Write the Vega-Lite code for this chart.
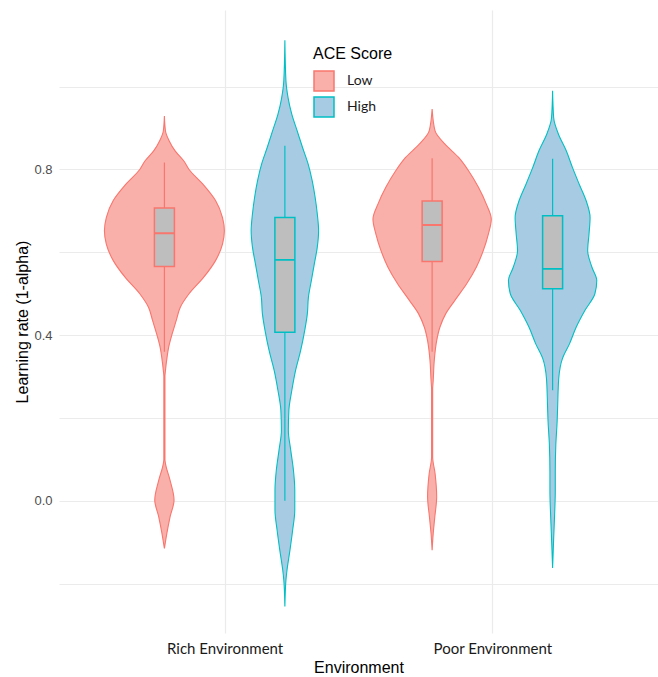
{
  "$schema": "https://vega.github.io/schema/vega-lite/v6.json",
  "autosize": {"type": "none"},
  "width": 599,
  "height": 623,
  "padding": {"left": 59, "top": 10, "right": 0, "bottom": 44},
  "background": "white",
  "config": {
    "view": {"stroke": null},
    "axis": {"gridColor": "#EBEBEB", "gridWidth": 1.2, "ticks": false, "domain": false}
  },
  "datasets": {
    "violin": [
      {"env": "Rich", "ace": "Low", "y": 0.929, "w": 0},
      {"env": "Rich", "ace": "Low", "y": 0.893, "w": 0.004},
      {"env": "Rich", "ace": "Low", "y": 0.869, "w": 0.018},
      {"env": "Rich", "ace": "Low", "y": 0.845, "w": 0.04},
      {"env": "Rich", "ace": "Low", "y": 0.821, "w": 0.072},
      {"env": "Rich", "ace": "Low", "y": 0.8, "w": 0.092},
      {"env": "Rich", "ace": "Low", "y": 0.765, "w": 0.143},
      {"env": "Rich", "ace": "Low", "y": 0.725, "w": 0.191},
      {"env": "Rich", "ace": "Low", "y": 0.684, "w": 0.217},
      {"env": "Rich", "ace": "Low", "y": 0.652, "w": 0.224},
      {"env": "Rich", "ace": "Low", "y": 0.62, "w": 0.217},
      {"env": "Rich", "ace": "Low", "y": 0.58, "w": 0.191},
      {"env": "Rich", "ace": "Low", "y": 0.54, "w": 0.147},
      {"env": "Rich", "ace": "Low", "y": 0.5, "w": 0.092},
      {"env": "Rich", "ace": "Low", "y": 0.467, "w": 0.059},
      {"env": "Rich", "ace": "Low", "y": 0.435, "w": 0.044},
      {"env": "Rich", "ace": "Low", "y": 0.403, "w": 0.029},
      {"env": "Rich", "ace": "Low", "y": 0.371, "w": 0.016},
      {"env": "Rich", "ace": "Low", "y": 0.347, "w": 0.01},
      {"env": "Rich", "ace": "Low", "y": 0.315, "w": 0.004},
      {"env": "Rich", "ace": "Low", "y": 0.3, "w": 0.002},
      {"env": "Rich", "ace": "Low", "y": 0.1, "w": 0.002},
      {"env": "Rich", "ace": "Low", "y": 0.09, "w": 0.004},
      {"env": "Rich", "ace": "Low", "y": 0.05, "w": 0.021},
      {"env": "Rich", "ace": "Low", "y": 0.002, "w": 0.036},
      {"env": "Rich", "ace": "Low", "y": -0.039, "w": 0.021},
      {"env": "Rich", "ace": "Low", "y": -0.079, "w": 0.009},
      {"env": "Rich", "ace": "Low", "y": -0.115, "w": 0},
      {"env": "Rich", "ace": "High", "y": 1.112, "w": 0},
      {"env": "Rich", "ace": "High", "y": 1.014, "w": 0.004},
      {"env": "Rich", "ace": "High", "y": 0.973, "w": 0.012},
      {"env": "Rich", "ace": "High", "y": 0.933, "w": 0.026},
      {"env": "Rich", "ace": "High", "y": 0.893, "w": 0.046},
      {"env": "Rich", "ace": "High", "y": 0.853, "w": 0.066},
      {"env": "Rich", "ace": "High", "y": 0.813, "w": 0.087},
      {"env": "Rich", "ace": "High", "y": 0.773, "w": 0.102},
      {"env": "Rich", "ace": "High", "y": 0.733, "w": 0.113},
      {"env": "Rich", "ace": "High", "y": 0.693, "w": 0.121},
      {"env": "Rich", "ace": "High", "y": 0.652, "w": 0.126},
      {"env": "Rich", "ace": "High", "y": 0.612, "w": 0.121},
      {"env": "Rich", "ace": "High", "y": 0.572, "w": 0.11},
      {"env": "Rich", "ace": "High", "y": 0.532, "w": 0.099},
      {"env": "Rich", "ace": "High", "y": 0.492, "w": 0.088},
      {"env": "Rich", "ace": "High", "y": 0.452, "w": 0.084},
      {"env": "Rich", "ace": "High", "y": 0.411, "w": 0.074},
      {"env": "Rich", "ace": "High", "y": 0.363, "w": 0.059},
      {"env": "Rich", "ace": "High", "y": 0.315, "w": 0.04},
      {"env": "Rich", "ace": "High", "y": 0.267, "w": 0.026},
      {"env": "Rich", "ace": "High", "y": 0.219, "w": 0.015},
      {"env": "Rich", "ace": "High", "y": 0.17, "w": 0.013},
      {"env": "Rich", "ace": "High", "y": 0.122, "w": 0.022},
      {"env": "Rich", "ace": "High", "y": 0.074, "w": 0.032},
      {"env": "Rich", "ace": "High", "y": 0.026, "w": 0.037},
      {"env": "Rich", "ace": "High", "y": -0.022, "w": 0.037},
      {"env": "Rich", "ace": "High", "y": -0.071, "w": 0.029},
      {"env": "Rich", "ace": "High", "y": -0.119, "w": 0.019},
      {"env": "Rich", "ace": "High", "y": -0.167, "w": 0.008},
      {"env": "Rich", "ace": "High", "y": -0.191, "w": 0.004},
      {"env": "Rich", "ace": "High", "y": -0.255, "w": 0},
      {"env": "Poor", "ace": "Low", "y": 0.946, "w": 0},
      {"env": "Poor", "ace": "Low", "y": 0.893, "w": 0.011},
      {"env": "Poor", "ace": "Low", "y": 0.861, "w": 0.048},
      {"env": "Poor", "ace": "Low", "y": 0.829, "w": 0.099},
      {"env": "Poor", "ace": "Low", "y": 0.797, "w": 0.136},
      {"env": "Poor", "ace": "Low", "y": 0.757, "w": 0.173},
      {"env": "Poor", "ace": "Low", "y": 0.717, "w": 0.202},
      {"env": "Poor", "ace": "Low", "y": 0.68, "w": 0.221},
      {"env": "Poor", "ace": "Low", "y": 0.644, "w": 0.21},
      {"env": "Poor", "ace": "Low", "y": 0.604, "w": 0.191},
      {"env": "Poor", "ace": "Low", "y": 0.564, "w": 0.165},
      {"env": "Poor", "ace": "Low", "y": 0.524, "w": 0.129},
      {"env": "Poor", "ace": "Low", "y": 0.484, "w": 0.085},
      {"env": "Poor", "ace": "Low", "y": 0.452, "w": 0.051},
      {"env": "Poor", "ace": "Low", "y": 0.419, "w": 0.029},
      {"env": "Poor", "ace": "Low", "y": 0.387, "w": 0.017},
      {"env": "Poor", "ace": "Low", "y": 0.339, "w": 0.008},
      {"env": "Poor", "ace": "Low", "y": 0.29, "w": 0.004},
      {"env": "Poor", "ace": "Low", "y": 0.27, "w": 0.002},
      {"env": "Poor", "ace": "Low", "y": 0.106, "w": 0.002},
      {"env": "Poor", "ace": "Low", "y": 0.066, "w": 0.011},
      {"env": "Poor", "ace": "Low", "y": 0.01, "w": 0.017},
      {"env": "Poor", "ace": "Low", "y": -0.039, "w": 0.01},
      {"env": "Poor", "ace": "Low", "y": -0.079, "w": 0.004},
      {"env": "Poor", "ace": "Low", "y": -0.119, "w": 0},
      {"env": "Poor", "ace": "High", "y": 0.99, "w": 0},
      {"env": "Poor", "ace": "High", "y": 0.925, "w": 0.004},
      {"env": "Poor", "ace": "High", "y": 0.885, "w": 0.022},
      {"env": "Poor", "ace": "High", "y": 0.845, "w": 0.051},
      {"env": "Poor", "ace": "High", "y": 0.805, "w": 0.074},
      {"env": "Poor", "ace": "High", "y": 0.765, "w": 0.099},
      {"env": "Poor", "ace": "High", "y": 0.725, "w": 0.125},
      {"env": "Poor", "ace": "High", "y": 0.684, "w": 0.14},
      {"env": "Poor", "ace": "High", "y": 0.644, "w": 0.136},
      {"env": "Poor", "ace": "High", "y": 0.604, "w": 0.131},
      {"env": "Poor", "ace": "High", "y": 0.564, "w": 0.147},
      {"env": "Poor", "ace": "High", "y": 0.532, "w": 0.165},
      {"env": "Poor", "ace": "High", "y": 0.5, "w": 0.158},
      {"env": "Poor", "ace": "High", "y": 0.46, "w": 0.121},
      {"env": "Poor", "ace": "High", "y": 0.419, "w": 0.088},
      {"env": "Poor", "ace": "High", "y": 0.379, "w": 0.063},
      {"env": "Poor", "ace": "High", "y": 0.344, "w": 0.037},
      {"env": "Poor", "ace": "High", "y": 0.296, "w": 0.023},
      {"env": "Poor", "ace": "High", "y": 0.231, "w": 0.019},
      {"env": "Poor", "ace": "High", "y": 0.192, "w": 0.017},
      {"env": "Poor", "ace": "High", "y": 0.135, "w": 0.012},
      {"env": "Poor", "ace": "High", "y": 0.071, "w": 0.01},
      {"env": "Poor", "ace": "High", "y": 0.023, "w": 0.01},
      {"env": "Poor", "ace": "High", "y": -0.025, "w": 0.008},
      {"env": "Poor", "ace": "High", "y": -0.09, "w": 0.004},
      {"env": "Poor", "ace": "High", "y": -0.162, "w": 0}
    ],
    "box": [
      {"env": "Rich", "ace": "Low", "lower": 0.36, "q1": 0.566, "median": 0.646, "q3": 0.707, "upper": 0.817},
      {"env": "Rich", "ace": "High", "lower": 0.0, "q1": 0.407, "median": 0.582, "q3": 0.684, "upper": 0.857},
      {"env": "Poor", "ace": "Low", "lower": 0.36, "q1": 0.578, "median": 0.666, "q3": 0.724, "upper": 0.827},
      {"env": "Poor", "ace": "High", "lower": 0.267, "q1": 0.512, "median": 0.56, "q3": 0.688, "upper": 0.826}
    ]
  },
  "layer": [
    {
      "data": {"name": "violin"},
      "transform": [
        {"calculate": "(datum.env === 'Rich' ? 1 : 2) + (datum.ace === 'Low' ? -0.225 : 0.225)", "as": "pos"},
        {"calculate": "datum.pos - datum.w", "as": "xl"},
        {"calculate": "datum.pos + datum.w", "as": "xr"}
      ],
      "mark": {"type": "area", "orient": "horizontal", "interpolate": "monotone", "strokeWidth": 1.1},
      "encoding": {
        "y": {
          "field": "y", "type": "quantitative",
          "scale": {"domain": [-0.319, 1.185], "nice": false, "zero": false},
          "axis": {
            "values": [-0.2, 0, 0.2, 0.4, 0.6, 0.8, 1.0],
            "labelExpr": "round(datum.value * 10) % 4 == 0 ? format(datum.value, '.1f') : ''",
            "labelFont": "Liberation Sans", "labelFontSize": 13, "labelColor": "#4D4D4D", "labelPadding": 7,
            "title": "Learning rate (1-alpha)", "titleFont": "Liberation Sans", "titleFontSize": 16,
            "titleFontWeight": "normal", "titleColor": "#000000", "titlePadding": 3
          }
        },
        "x": {
          "field": "xl", "type": "quantitative",
          "scale": {"domain": [0.4, 2.6], "nice": false, "zero": false},
          "axis": {
            "values": [1, 2],
            "labelExpr": "datum.value == 1 ? 'Rich Environment' : 'Poor Environment'",
            "labelFont": "Lato", "labelFontSize": 15, "labelColor": "#1A1A1A", "labelPadding": 8,
            "title": "Environment", "titleFont": "Liberation Sans", "titleFontSize": 16,
            "titleFontWeight": "normal", "titleColor": "#000000", "titlePadding": 3
          }
        },
        "x2": {"field": "xr"},
        "detail": {"field": "env"},
        "fill": {
          "field": "ace", "type": "nominal",
          "scale": {"domain": ["Low", "High"], "range": ["#FAB0AA", "#A7CBE3"]},
          "legend": {
            "title": "ACE Score", "orient": "none", "legendX": 254, "legendY": 36,
            "titleFont": "Liberation Sans", "titleFontSize": 16, "titleFontWeight": "normal", "titleColor": "#000000",
            "titlePadding": 8, "labelFont": "Lato", "labelFontSize": 14, "labelColor": "#1A1A1A",
            "symbolType": "square", "symbolSize": 400, "symbolStrokeWidth": 1.5, "labelOffset": 12,
            "rowPadding": 0, "padding": 0
          }
        },
        "stroke": {
          "field": "ace", "type": "nominal",
          "scale": {"domain": ["Low", "High"], "range": ["#F8766D", "#00BFC4"]},
          "legend": {
            "title": "ACE Score", "orient": "none", "legendX": 254, "legendY": 36,
            "titleFont": "Liberation Sans", "titleFontSize": 16, "titleFontWeight": "normal", "titleColor": "#000000",
            "titlePadding": 8, "labelFont": "Lato", "labelFontSize": 14, "labelColor": "#1A1A1A",
            "symbolType": "square", "symbolSize": 400, "symbolStrokeWidth": 1.5, "labelOffset": 12,
            "rowPadding": 0, "padding": 0
          }
        }
      }
    },
    {
      "data": {"name": "box"},
      "transform": [
        {"calculate": "(datum.env === 'Rich' ? 1 : 2) + (datum.ace === 'Low' ? -0.225 : 0.225)", "as": "pos"}
      ],
      "mark": {"type": "rule", "strokeWidth": 1.2},
      "encoding": {
        "x": {"field": "pos", "type": "quantitative", "title": "Environment"},
        "y": {"field": "lower", "type": "quantitative", "title": "Learning rate (1-alpha)"},
        "y2": {"field": "upper"},
        "stroke": {"field": "ace", "type": "nominal"}
      }
    },
    {
      "data": {"name": "box"},
      "transform": [
        {"calculate": "(datum.env === 'Rich' ? 1 : 2) + (datum.ace === 'Low' ? -0.225 : 0.225)", "as": "pos"}
      ],
      "mark": {"type": "bar", "orient": "vertical", "width": 20, "fill": "#BEBEBE", "strokeWidth": 1.5},
      "encoding": {
        "x": {"field": "pos", "type": "quantitative", "title": "Environment"},
        "y": {"field": "q1", "type": "quantitative", "title": "Learning rate (1-alpha)"},
        "y2": {"field": "q3"},
        "stroke": {"field": "ace", "type": "nominal"}
      }
    },
    {
      "data": {"name": "box"},
      "transform": [
        {"calculate": "(datum.env === 'Rich' ? 1 : 2) + (datum.ace === 'Low' ? -0.225 : 0.225)", "as": "pos"}
      ],
      "mark": {"type": "bar", "orient": "vertical", "width": 20, "fill": null, "fillOpacity": 0, "strokeWidth": 1.8},
      "encoding": {
        "x": {"field": "pos", "type": "quantitative", "title": "Environment"},
        "y": {"field": "median", "type": "quantitative", "title": "Learning rate (1-alpha)"},
        "y2": {"field": "median"},
        "stroke": {"field": "ace", "type": "nominal"}
      }
    }
  ]
}
